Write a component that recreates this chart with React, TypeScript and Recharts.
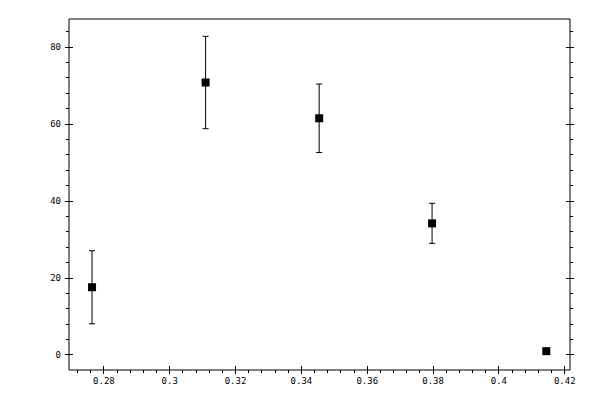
import React from 'react';
import { ScatterChart, Scatter, XAxis, YAxis, ErrorBar } from 'recharts';

const xValues = [0.2764, 0.3109, 0.3454, 0.3797, 0.4144];
const yValues = [17.6, 70.8, 61.5, 34.2, 1.0];
const yErrors = [9.5, 12.0, 8.9, 5.2, 0.5];

const xMajorTicks = [0.28, 0.3, 0.32, 0.34, 0.36, 0.38, 0.4, 0.42];
const xTickLabels = ['0.28', '0.3', '0.32', '0.34', '0.36', '0.38', '0.4', '0.42'];
const yMajorTicks = [0, 20, 40, 60, 80];
const yTickLabels = ['0', '20', '40', '60', '80'];

const X_DOMAIN: [number, number] = [0.2694, 0.4216];
const Y_DOMAIN: [number, number] = [-3.9, 87.3];

// minor ticks every 1/5 of a major step, inside the domain
const xTicks: number[] = [];
for (let i = 68; i <= 105; i++) xTicks.push(Math.round(i * 0.004 * 1000) / 1000);
const yTicks: number[] = [];
for (let i = 0; i <= 21; i++) yTicks.push(i * 4);

const data = xValues.map((x, i) => ({ x, y: yValues[i], err: yErrors[i] }));

const FONT = '"DejaVu Sans Mono", monospace';
const MAJ = 4;
const MIN = 3;

const isMajor = (v: number, majors: number[]) => majors.findIndex(m => Math.abs(m - v) < 1e-9);

const makeXTick = (side: 'top' | 'bottom') => (props: any) => {
  const { x, y, payload } = props;
  const idx = isMajor(payload.value, xMajorTicks);
  const dir = side === 'bottom' ? 1 : -1;
  return (
    <g>
      {idx >= 0 ? (
        <line x1={x} x2={x} y1={y - MAJ} y2={y + MAJ} stroke="#000" shapeRendering="crispEdges" />
      ) : (
        <line x1={x} x2={x} y1={y} y2={y + dir * MIN} stroke="#000" shapeRendering="crispEdges" />
      )}
      {idx >= 0 && side === 'bottom' && (
        <text x={x} y={y + 14} textAnchor="middle" fontSize={9} fontFamily={FONT} fill="#000">
          {xTickLabels[idx]}
        </text>
      )}
    </g>
  );
};

const makeYTick = (side: 'left' | 'right') => (props: any) => {
  const { x, y, payload } = props;
  const idx = isMajor(payload.value, yMajorTicks);
  const dir = side === 'left' ? -1 : 1;
  return (
    <g>
      {idx >= 0 ? (
        <line x1={x - MAJ} x2={x + MAJ} y1={y} y2={y} stroke="#000" shapeRendering="crispEdges" />
      ) : (
        <line x1={x} x2={x + dir * MIN} y1={y} y2={y} stroke="#000" shapeRendering="crispEdges" />
      )}
      {idx >= 0 && side === 'left' && (
        <text x={x - 8} y={y + 3} textAnchor="end" fontSize={9} fontFamily={FONT} fill="#000">
          {yTickLabels[idx]}
        </text>
      )}
    </g>
  );
};

const SquareDot = (props: any) => {
  const { cx, cy } = props;
  return <rect x={cx - 4} y={cy - 4} width={8} height={8} fill="#000" />;
};

export default function App() {
  return (
    <div style={{ position: 'absolute', left: 0, top: 0, width: 600, height: 400, background: '#fff' }}>
      <ScatterChart width={600} height={400} margin={{ top: 0, right: 0, bottom: 0, left: 0 }}>
        <XAxis
          dataKey="x"
          type="number"
          domain={X_DOMAIN}
          allowDataOverflow
          ticks={xTicks}
          interval={0}
          height={30}
          tickSize={0}
          tickMargin={0}
          tick={makeXTick('bottom')}
          axisLine={{ stroke: '#000' }}
        />
        <XAxis
          xAxisId="top"
          orientation="top"
          type="number"
          domain={X_DOMAIN}
          allowDataOverflow
          ticks={xTicks}
          interval={0}
          height={19}
          tickSize={0}
          tickMargin={0}
          tick={makeXTick('top')}
          axisLine={{ stroke: '#000' }}
        />
        <YAxis
          dataKey="y"
          type="number"
          domain={Y_DOMAIN}
          allowDataOverflow
          ticks={yTicks}
          interval={0}
          width={69}
          tickSize={0}
          tickMargin={0}
          tick={makeYTick('left')}
          axisLine={{ stroke: '#000' }}
        />
        <YAxis
          yAxisId="right"
          orientation="right"
          type="number"
          domain={Y_DOMAIN}
          allowDataOverflow
          ticks={yTicks}
          interval={0}
          width={30}
          tickSize={0}
          tickMargin={0}
          tick={makeYTick('right')}
          axisLine={{ stroke: '#000' }}
        />
        <Scatter data={data} shape={<SquareDot />} isAnimationActive={false}>
          <ErrorBar dataKey="err" direction="y" width={3} stroke="#000" strokeWidth={1} />
        </Scatter>
      </ScatterChart>
    </div>
  );
}
